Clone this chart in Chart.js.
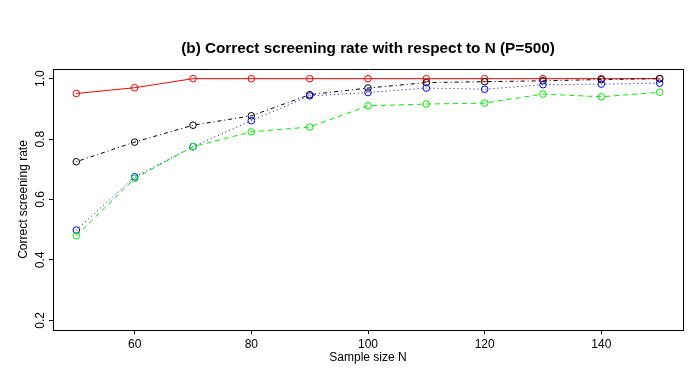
<!DOCTYPE html>
<html>
<head>
<meta charset="utf-8">
<script src="https://cdn.jsdelivr.net/npm/chart.js@4.4.1/dist/chart.umd.min.js"></script>
<style>
  html, body { margin: 0; padding: 0; background: #fff; }
  canvas { display: block; }
</style>
</head>
<body>
<canvas id="myChart" width="692" height="369"></canvas>
<script>
// sample sizes N and correct screening rates per method (P=500)
var sampleSizes = [50, 60, 70, 80, 90, 100, 110, 120, 130, 140, 150];
var redRate   = [0.951, 0.970, 1.0, 1.0, 1.0, 1.0, 1.0, 1.0, 1.0, 1.0, 1.0];
var blackRate = [0.725, 0.790, 0.846, 0.877, 0.947, 0.969, 0.987, 0.990, 0.993, 0.997, 1.0];
var blueRate  = [0.499, 0.675, 0.775, 0.861, 0.943, 0.954, 0.969, 0.965, 0.980, 0.982, 0.985];
var greenRate = [0.480, 0.670, 0.775, 0.824, 0.840, 0.910, 0.916, 0.919, 0.949, 0.940, 0.955];
var yTicks = [0.2, 0.4, 0.6, 0.8, 1.0];
var xTicks = [60, 80, 100, 120, 140];

var toPoints = function(ys) {
    return sampleSizes.map(function(n, i) { return {x: n, y: ys[i]}; });
};

var series = function(ys, colour, dash) {
    return {
        data: toPoints(ys),
        borderColor: colour,
        borderWidth: 1,
        borderDash: dash,
        pointStyle: 'circle',
        pointRadius: 3.3,
        pointBorderWidth: 1,
        pointBorderColor: colour,
        pointBackgroundColor: 'rgba(0,0,0,0)',
        fill: false,
        tension: 0
    };
};

Chart.defaults.font.family = '"Liberation Sans", Arial, Helvetica, sans-serif';
Chart.defaults.font.size = 12;
Chart.defaults.color = '#000';

new Chart(document.getElementById('myChart').getContext('2d'), {
    type: 'line',
    data: {
        datasets: [
            series(greenRate, '#00ee00', [5, 4]),
            series(blueRate, '#0000ff', [1, 3]),
            series(blackRate, '#000000', [1, 3, 4, 3]),
            series(redRate, '#ff0000', [])
        ]
    },
    options: {
        responsive: false,
        animation: false,
        layout: { padding: 0, autoPadding: false },
        plugins: {
            legend: { display: false },
            tooltip: { enabled: false },
            title: { display: false }
        },
        scales: {
            x: {
                type: 'linear',
                position: 'bottom',
                min: 46,
                max: 154,
                afterFit: function(s) { s.height = 39; },
                afterBuildTicks: function(s) { s.ticks = xTicks.map(function(v) { return {value: v}; }); },
                ticks: { maxRotation: 0, padding: 3, font: { size: 12 } },
                grid: { drawOnChartArea: false, tickLength: 4, color: '#000' },
                border: { color: '#000', width: 1 },
                title: { display: true, text: 'Sample size N', font: { size: 12 }, padding: { top: 0, bottom: 4 } }
            },
            y: {
                type: 'linear',
                position: 'left',
                min: 0.168,
                max: 1.032,
                afterFit: function(s) { s.width = 53; },
                afterBuildTicks: function(s) { s.ticks = yTicks.map(function(v) { return {value: v}; }); },
                ticks: {
                    minRotation: 90,
                    maxRotation: 90,
                    crossAlign: 'center',
                    padding: 0,
                    font: { size: 12 },
                    callback: function(v) { return v.toFixed(1); }
                },
                grid: { drawOnChartArea: false, tickLength: 4, color: '#000' },
                border: { color: '#000', width: 1 },
                title: { display: true, text: 'Correct screening rate', font: { size: 12 }, padding: { top: 16, bottom: 0 } }
            },
            x2: {
                type: 'linear',
                position: 'top',
                afterFit: function(s) { s.height = 69; },
                ticks: { display: false },
                grid: { display: false },
                border: { color: '#000', width: 1 },
                title: {
                    display: true,
                    text: '(b) Correct screening rate with respect to N (P=500)',
                    font: { size: 15.3, weight: 'bold' },
                    padding: { top: 40, bottom: 0 }
                }
            },
            y2: {
                type: 'linear',
                position: 'right',
                afterFit: function(s) { s.width = 9; },
                ticks: { display: false },
                grid: { display: false },
                border: { color: '#000', width: 1 }
            }
        }
    }
});
</script>
</body>
</html>
